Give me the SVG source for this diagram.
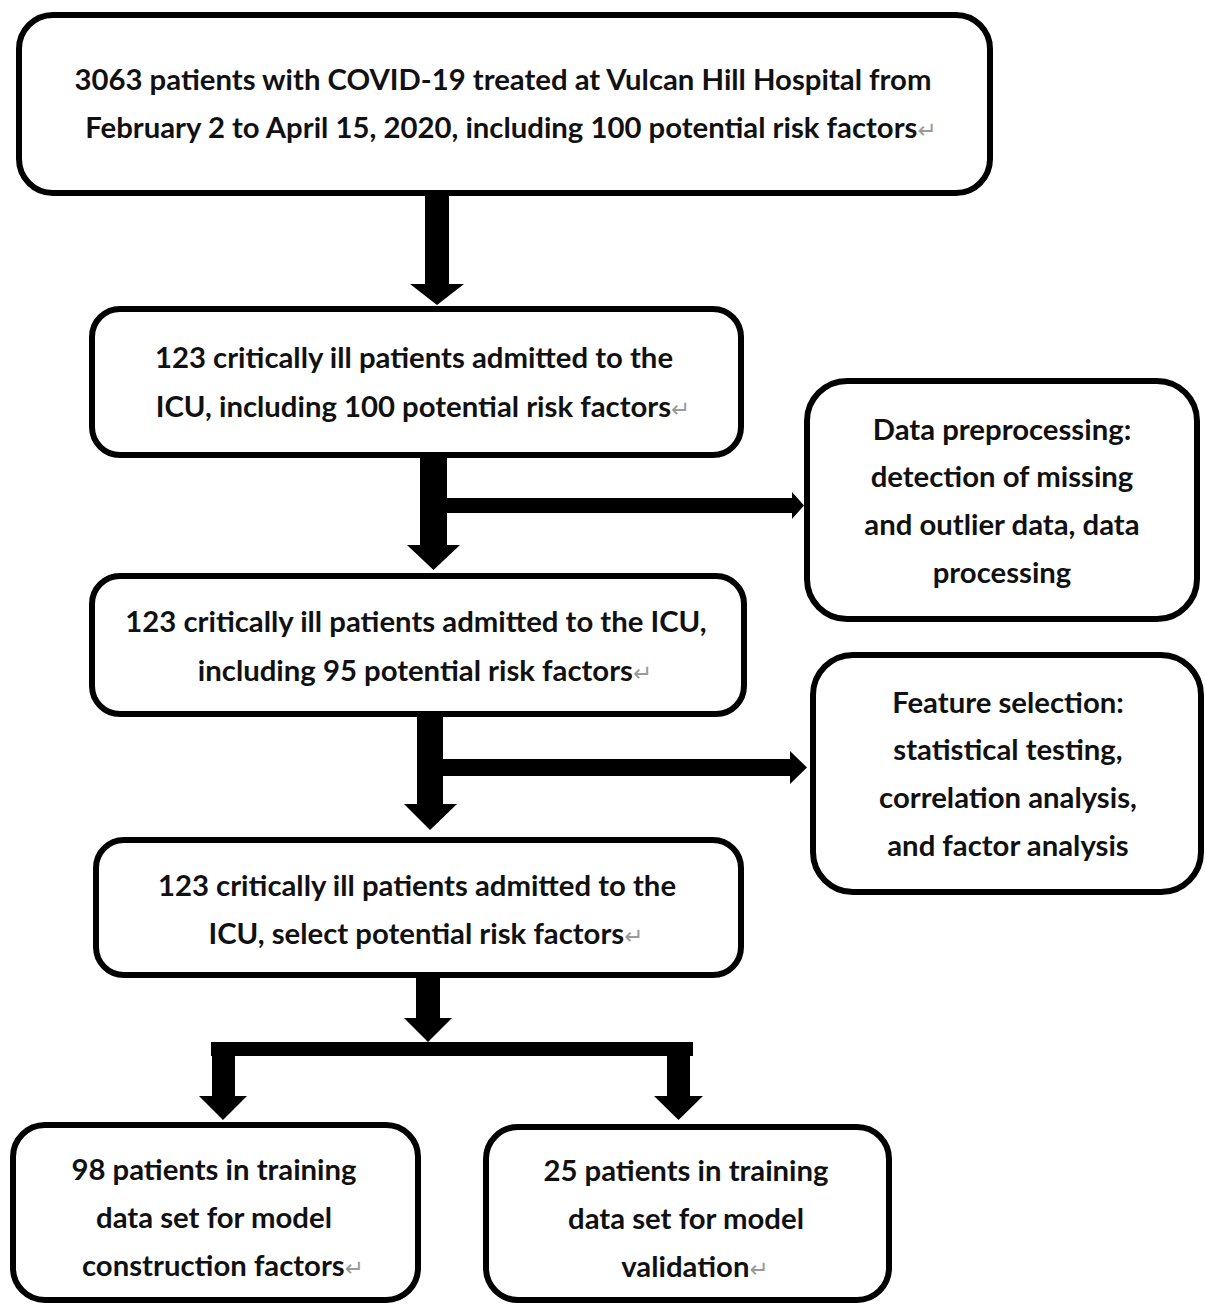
<svg xmlns="http://www.w3.org/2000/svg" width="1206" height="1307" viewBox="0 0 1206 1307">
<style>
.box{fill:#fff;stroke:#000;stroke-width:6}
.t{font-family:Lato,"Liberation Sans",sans-serif;font-weight:bold;font-size:29.3px;fill:#111;text-anchor:middle}
.r{fill:#9a9a9a;font-weight:normal;font-size:23px;font-family:"DejaVu Sans",sans-serif}
.arr{fill:#000}
</style>
<rect width="1206" height="1307" fill="#fff"/>
<g id="connectors">
<polygon class="arr" points="425,196 449,196 449,284 464,284 437,305 410,284 425,284"/>
<polygon class="arr" points="420,458 447,458 447,545 460,545 433.5,570 407,545 420,545"/>
<polygon class="arr" points="447,498 792,498 792,492 804,505.5 792,519 792,513 447,513"/>
<polygon class="arr" points="417,717 443,717 443,804 457,804 430,830 404,804 417,804"/>
<polygon class="arr" points="443,759 790,759 790,751 807,767.5 790,784 790,776 443,776"/>
<polygon class="arr" points="416,978 440,978 440,1018 452,1018 428,1042 404,1018 416,1018"/>
<rect class="arr" x="211" y="1042" width="482" height="14"/>
<polygon class="arr" points="212,1056 235,1056 235,1096 247,1096 223,1120 199,1096 212,1096"/>
<polygon class="arr" points="667,1056 690,1056 690,1096 703,1096 678.5,1120 654,1096 667,1096"/>
</g>
<g id="n1">
<rect class="box" x="19" y="15" width="971" height="178" rx="34"/>
<text class="t" x="503" y="90">3063 patients with COVID-19 treated at Vulcan Hill Hospital from</text>
<text class="t" x="511" y="138">February 2 to April 15, 2020, including 100 potential risk factors<tspan class="r">↵</tspan></text>
</g>
<g id="n2">
<rect class="box" x="92" y="309" width="649" height="146" rx="28"/>
<text class="t" x="414" y="368">123 critically ill patients admitted to the</text>
<text class="t" x="423" y="417">ICU, including 100 potential risk factors<tspan class="r">↵</tspan></text>
</g>
<g id="n3">
<rect class="box" x="92" y="576" width="652" height="138" rx="28"/>
<text class="t" x="416" y="632">123 critically ill patients admitted to the ICU,</text>
<text class="t" x="425" y="681">including 95 potential risk factors<tspan class="r">↵</tspan></text>
</g>
<g id="n4">
<rect class="box" x="96" y="840" width="645" height="135" rx="28"/>
<text class="t" x="417" y="896">123 critically ill patients admitted to the</text>
<text class="t" x="426" y="944">ICU, select potential risk factors<tspan class="r">↵</tspan></text>
</g>
<g id="s1">
<rect class="box" x="807" y="381" width="390" height="238" rx="40"/>
<text class="t" x="1002" y="440">Data preprocessing:</text>
<text class="t" x="1002" y="487">detection of missing</text>
<text class="t" x="1002" y="535">and outlier data, data</text>
<text class="t" x="1002" y="583">processing</text>
</g>
<g id="s2">
<rect class="box" x="813" y="655" width="388" height="237" rx="40"/>
<text class="t" x="1008" y="713">Feature selection:</text>
<text class="t" x="1008" y="760">statistical testing,</text>
<text class="t" x="1008" y="808">correlation analysis,</text>
<text class="t" x="1008" y="856">and factor analysis</text>
</g>
<g id="b1">
<rect class="box" x="13" y="1125" width="405" height="175" rx="32"/>
<text class="t" x="214" y="1180">98 patients in training</text>
<text class="t" x="214" y="1228">data set for model</text>
<text class="t" x="223" y="1276">construction factors<tspan class="r">↵</tspan></text>
</g>
<g id="b2">
<rect class="box" x="486" y="1127" width="403" height="173" rx="32"/>
<text class="t" x="686" y="1181">25 patients in training</text>
<text class="t" x="686" y="1229">data set for model</text>
<text class="t" x="695" y="1277">validation<tspan class="r">↵</tspan></text>
</g>
</svg>
